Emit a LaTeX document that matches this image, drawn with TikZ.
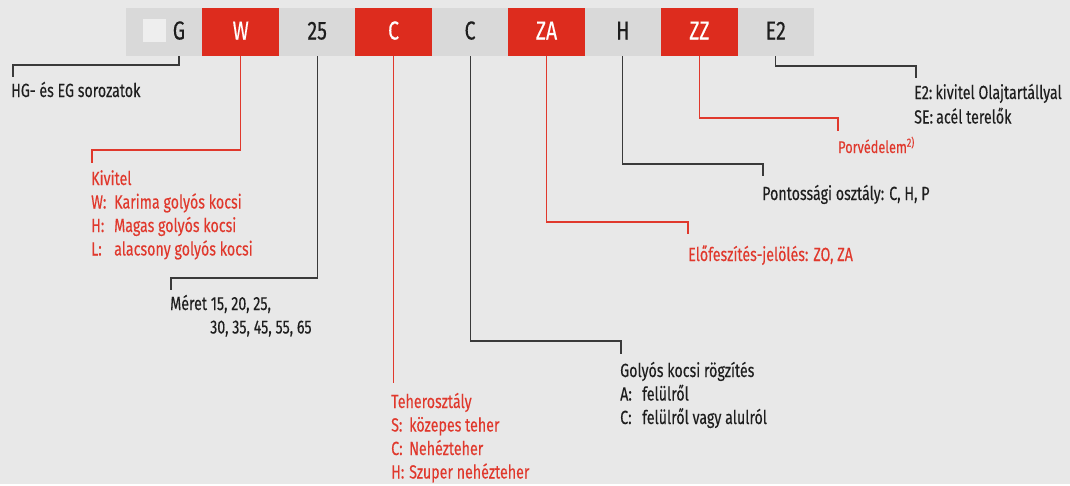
\documentclass[tikz,border=0pt]{standalone}
\usepackage{fontspec}
\setmainfont{Fira Sans}[FakeStretch=0.75, FakeBold=0.25]
\definecolor{bg}{HTML}{E8E8E8}
\definecolor{cellgrey}{HTML}{D9D9D9}
\definecolor{boxwhite}{HTML}{EEEEEE}
\definecolor{brandred}{HTML}{DD2C1E}
\definecolor{labelred}{HTML}{E0382C}
\definecolor{ink}{HTML}{1E1E1E}
\definecolor{wire}{HTML}{3A3A3A}
\newcommand{\lbl}{\fontsize{19}{23.5}\selectfont}
\begin{document}
\begin{tikzpicture}[x=1pt,y=-1pt,
  cellbox/.style={anchor=north west, minimum width=76.6pt, minimum height=48pt,
    inner sep=0pt, outer sep=0pt, text height=15pt, text depth=0pt,
    font=\fontsize{26}{26}\selectfont},
  greycell/.style={cellbox, fill=cellgrey, text=ink},
  redcell/.style={cellbox, fill=brandred, text=white},
  darkline/.style={draw=wire, line width=1.1pt},
  redline/.style={draw=labelred, line width=1.1pt},
  darktext/.style={anchor=base west, inner sep=0pt, text=ink, font=\lbl},
  redtext/.style={anchor=base west, inner sep=0pt, text=labelred, font=\lbl}]

\fill[bg] (0,0) rectangle (1070,484);

% code cells
\node[greycell] (c0) at (126,8) {};
\node[redcell]  (c1) at (202.4,8) {W};
\node[greycell] (c2) at (278.9,8) {25};
\node[redcell]  (c3) at (355.3,8) {C};
\node[greycell] (c4) at (431.8,8) {C};
\node[redcell]  (c5) at (508.2,8) {ZA};
\node[greycell] (c6) at (584.6,8) {H};
\node[redcell]  (c7) at (661.1,8) {ZZ};
\node[greycell] (c8) at (737.5,8) {E2};
\node[fill=boxwhite, minimum size=23pt, inner sep=0pt, anchor=north west] (sq) at (143,19) {};
\node[anchor=base, inner sep=0pt, text=ink, font=\fontsize{26}{26}\selectfont] (gtxt) at (179,39.5) {G};

% stub ends above the explanations
\coordinate (gEnd) at (13,77);
\coordinate (wEnd) at (92,163);
\coordinate (mEnd) at (171,290);
\coordinate (gkEnd) at (621,354);
\coordinate (eEnd) at (688,234);
\coordinate (pEnd) at (763,176);
\coordinate (pvEnd) at (838,131);
\coordinate (e2End) at (916,78);
\path (c3.south) ++(0,327) coordinate (tEnd);

% explanations
\node[darktext] (hg) at (11,97) {HG- és EG sorozatok};
\node[redtext] (kiv) at (91,185) {\begin{tabular}[t]{@{}p{23pt}@{}l@{}}
  \multicolumn{2}{@{}l@{}}{Kivitel}\\
  W: & Karima golyós kocsi\\
  H: & Magas golyós kocsi\\
  L: & alacsony golyós kocsi
\end{tabular}};
\node[darktext] (meret) at (170,310) {\begin{tabular}[t]{@{}l@{}}
  Méret 15, 20, 25,\\
  \hspace*{40pt}30, 35, 45, 55, 65
\end{tabular}};
\node[redtext] (teher) at (391,408) {\begin{tabular}[t]{@{}p{18pt}@{}l@{}}
  \multicolumn{2}{@{}l@{}}{Teherosztály}\\
  S: & közepes teher\\
  C: & Nehézteher\\
  H: & Szuper nehézteher
\end{tabular}};
\node[darktext] (golyos) at (620,377) {\begin{tabular}[t]{@{}p{22pt}@{}l@{}}
  \multicolumn{2}{@{}l@{}}{Golyós kocsi rögzítés}\\
  A: & felülről\\
  C: & felülről vagy alulról
\end{tabular}};
\node[darktext] (pont) at (762,200) {Pontossági osztály: C, H, P};
\node[redtext] (elof) at (688,261) {Előfeszítés-jelölés: ZO, ZA};
\node[redtext, font=\fontsize{17}{20}\selectfont] (porv) at (838,153) {Porvédelem\textsuperscript{2)}};
\node[darktext] (e2) at (914,99) {\begin{tabular}[t]{@{}l@{}}
  E2:\,kivitel Olajtartállyal\\[1pt]
  SE:\,acél terelők
\end{tabular}};

% connectors
\draw[darkline] (gtxt |- c0.south) -- ++(0,9) -| (gEnd);
\draw[redline] (c1.south) -- ++(0,94) -| (wEnd);
\draw[darkline] (c2.south) -- ++(0,222) -| (mEnd);
\draw[redline] (c3.south) -- (tEnd);
\draw[darkline] (c4.south) -- ++(0,285) -| (gkEnd);
\draw[redline] (c5.south) -- ++(0,166) -| (eEnd);
\draw[darkline] (c6.south) -- ++(0,108) -| (pEnd);
\draw[redline] (c7.south) -- ++(0,62) -| (pvEnd);
\draw[darkline] (c8.south) -- ++(0,10) -| (e2End);
\end{tikzpicture}
\end{document}
